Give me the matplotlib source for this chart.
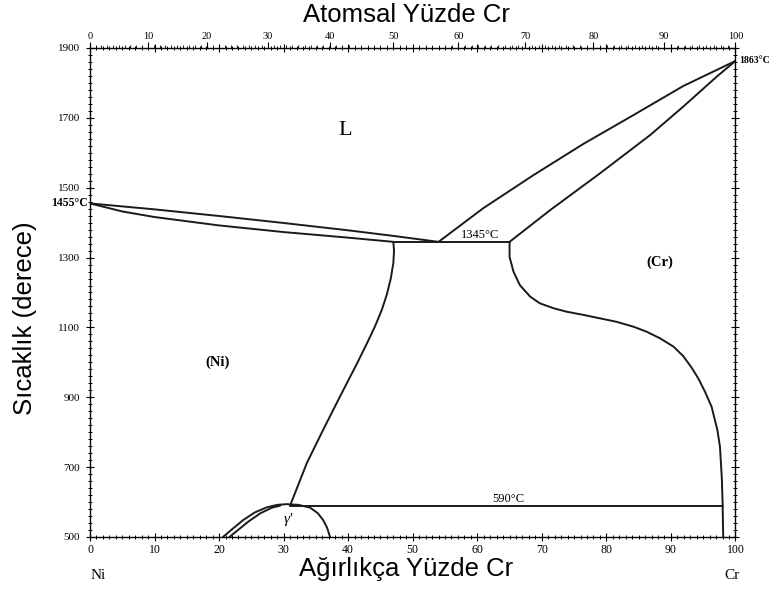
import numpy as np
import matplotlib
matplotlib.use("Agg")
import matplotlib.pyplot as plt
from matplotlib.ticker import MultipleLocator

# Ni-Cr phase diagram (weight % Cr vs temperature, degC)
liq_ni_x = [0, 10, 20, 30, 40, 47, 54]
liq_ni_t = [1455, 1438, 1419, 1399, 1378, 1362, 1345]
sol_ni_x = [0, 5, 10, 20, 30, 40, 47]
sol_ni_t = [1455, 1432, 1416, 1392, 1373, 1357, 1345]
ni_solvus_x = [47, 47.1, 47.0, 46.6, 46.0, 45.2, 44.2, 43.0, 41.4, 38.7, 36.1, 33.6, 31.0]
ni_solvus_t = [1345, 1320, 1285, 1240, 1195, 1150, 1105, 1058, 998, 901, 806, 712, 590]

liq_cr_x = [54, 60.9, 68.7, 76.4, 84.2, 91.9, 100]
liq_cr_t = [1345, 1441, 1536, 1625, 1708, 1791, 1863]
sol_cr_x = [65, 71.3, 79.0, 86.8, 91.9, 97.1, 100]
sol_cr_t = [1345, 1436, 1541, 1651, 1732, 1818, 1863]
cr_solvus_x = [65, 65.0, 65.6, 66.6, 68.2, 69.7, 71.8, 73.85, 76.4, 79.0, 81.6, 84.2, 86.2,
               88.3, 90.4, 91.9, 93.2, 94.3, 95.3, 96.3, 97.2, 97.6, 97.9, 98.0, 98.1]
cr_solvus_t = [1345, 1302, 1260, 1221, 1188, 1169, 1155, 1145, 1136, 1126, 1116, 1102, 1088,
               1069, 1045, 1018, 985, 952, 915, 873, 806, 758, 663, 601, 500]

eutectic_x = [47, 65]
eutectic_t = [1345, 1345]
eutectoid_x = [31, 98.0]
eutectoid_t = [590, 590]

gp_outer_x = [20.6, 22.0, 23.7, 25.5, 27.4, 29.0, 30.5, 32.3, 34.1, 35.3, 36.1, 36.7, 37.2]
gp_outer_t = [500, 522, 548, 570, 585, 592, 594, 592, 584, 568, 549, 528, 500]
gp_inner_x = [21.6, 23.0, 24.6, 26.4, 28.2, 29.5]
gp_inner_t = [500, 521, 545, 568, 584, 590]

x_ticks = list(range(0, 101, 10))
y_ticks = list(range(500, 1901, 200))
at_ticks = list(range(0, 101, 10))

M_CR, M_NI = 52.00, 58.69


def wt2at(w):
    w = np.clip(np.asarray(w, dtype=float), 0, 100)
    a = w / M_CR
    b = (100 - w) / M_NI
    return 100 * a / (a + b)


def at2wt(a):
    a = np.clip(np.asarray(a, dtype=float), 0, 100)
    p = a * M_CR
    q = (100 - a) * M_NI
    return 100 * p / (p + q)


serif = "Liberation Serif"
sans = "Liberation Sans"
fig = plt.figure(figsize=(7.84, 6.13), dpi=100)
ax = fig.add_axes([0.1148, 0.124, 0.8233, 0.7977])

lw = 1.4
for xs, ts in [(liq_ni_x, liq_ni_t), (sol_ni_x, sol_ni_t), (ni_solvus_x, ni_solvus_t),
               (liq_cr_x, liq_cr_t), (sol_cr_x, sol_cr_t), (cr_solvus_x, cr_solvus_t),
               (eutectic_x, eutectic_t), (eutectoid_x, eutectoid_t),
               (gp_outer_x, gp_outer_t), (gp_inner_x, gp_inner_t)]:
    ax.plot(xs, ts, color="#1a1a1a", lw=lw, solid_capstyle="round", solid_joinstyle="round")

ax.set_xlim(0, 100)
ax.set_ylim(500, 1900)
ax.set_xticks(x_ticks)
ax.set_yticks(y_ticks)
ax.xaxis.set_minor_locator(MultipleLocator(1))
ax.yaxis.set_minor_locator(MultipleLocator(20))
ax.tick_params(which="major", direction="inout", length=6, width=0.8,
               top=True, right=True)
ax.tick_params(which="minor", direction="inout", length=3, width=0.7,
               top=True, right=True)
ax.tick_params(axis="x", labelsize=8.5, pad=2)
ax.tick_params(axis="y", labelsize=8, pad=4)
for lab in ax.get_xticklabels() + ax.get_yticklabels():
    lab.set_fontfamily(serif)
for s in ax.spines.values():
    s.set_linewidth(1.0)

top = ax.secondary_xaxis("top", functions=(wt2at, at2wt))
top.set_xticks(at_ticks)
top.xaxis.set_minor_locator(MultipleLocator(1))
top.tick_params(which="major", direction="out", length=4, width=0.8, labelsize=7.5, pad=1)
top.tick_params(which="minor", direction="out", length=2, width=0.6)
for lab in top.get_xticklabels():
    lab.set_fontfamily(serif)
top.spines["top"].set_visible(False)

# region and point labels
ax.text(39.5, 1665, "L", fontsize=16, family=serif, ha="center", va="center")
ax.text(19.7, 1001, "(Ni)", fontsize=10.5, family=serif, weight="bold", ha="center", va="center")
ax.text(88.3, 1287, "(Cr)", fontsize=10.5, family=serif, weight="bold", ha="center", va="center")
ax.text(30.7, 549, "\u03b3'", fontsize=11, family=serif, style="italic", ha="center", va="center")
ax.text(-0.3, 1455, "1455\u00b0C", fontsize=8.5, family=serif, weight="bold", ha="right", va="center")
ax.text(100.6, 1863, "1863\u00b0C", fontsize=7, family=serif, weight="bold", ha="left", va="center")
ax.text(60.4, 1347, "1345\u00b0C", fontsize=9, family=serif, ha="center", va="bottom")
ax.text(64.8, 592, "590\u00b0C", fontsize=9, family=serif, ha="center", va="bottom")
ax.text(1.2, -0.078, "Ni", fontsize=11, family=serif, ha="center", va="center",
        transform=ax.get_xaxis_transform())
ax.text(99.5, -0.078, "Cr", fontsize=11, family=serif, ha="center", va="center",
        transform=ax.get_xaxis_transform())

fig.text(406 / 784, 1 - 569 / 613, "A\u011f\u0131rl\u0131k\u00e7a Y\u00fczde Cr",
         fontsize=18.5, family=sans, ha="center", va="center")
fig.text(406 / 784, 1 - 15 / 613, "Atomsal Y\u00fczde Cr",
         fontsize=18.5, family=sans, ha="center", va="center")
fig.text(25 / 784, 1 - 318 / 613, "S\u0131cakl\u0131k (derece)",
         fontsize=18.5, family=sans, ha="center", va="center", rotation=90)

fig.savefig("out.png", dpi=100)
